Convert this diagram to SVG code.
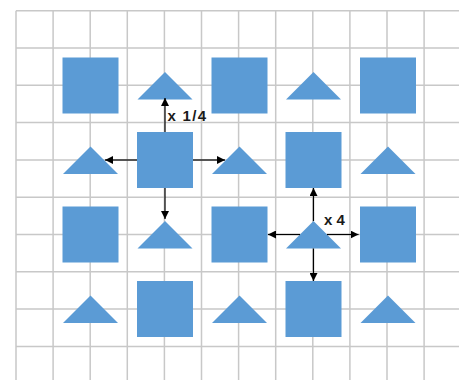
<svg xmlns="http://www.w3.org/2000/svg" width="459" height="380" viewBox="0 0 459 380">
<style>
.g{stroke:#c8c8c8;stroke-width:1.5;fill:none}
.sq,.tr{fill:#5b9bd5}
.c{stroke:#000;stroke-width:1.2;fill:none;marker-end:url(#ah)}
.t{font-family:"Liberation Sans",Arial,sans-serif;font-weight:bold;font-size:15px;fill:#1a1a1a}
</style>
<defs>
<marker id="ah" viewBox="0 0 10 10" refX="10" refY="5" markerWidth="8" markerHeight="8" markerUnits="userSpaceOnUse" orient="auto">
<path d="M0,0 L10,5 L0,10 z" fill="#000"/>
</marker>
<rect id="s" x="-28" y="-28" width="56" height="56"/>
<path id="t" d="M0,-13.6 L27.5,14 L-27.5,14 z"/>
</defs>
<rect width="459" height="380" fill="#fff"/>
<g id="grid" class="g">
<path d="M16,10.7V380M53.1,10.7V380M90.2,10.7V380M127.3,10.7V380M164.4,10.7V380M201.5,10.7V380M238.6,10.7V380M275.7,10.7V380M312.8,10.7V380M349.9,10.7V380M387,10.7V380M424.1,10.7V380"/>
<path d="M16,10.7H459M16,48H459M16,85.3H459M16,122.6H459M16,159.9H459M16,197.2H459M16,234.5H459M16,271.8H459M16,309.1H459M16,346.4H459"/>
</g>
<g id="n1" class="sq"><use href="#s" x="90.5" y="85.5"/></g>
<g id="n2" class="tr"><use href="#t" x="165" y="85.5"/></g>
<g id="n3" class="sq"><use href="#s" x="239.5" y="85.5"/></g>
<g id="n4" class="tr"><use href="#t" x="313.5" y="85.5"/></g>
<g id="n5" class="sq"><use href="#s" x="388" y="85.5"/></g>
<g id="n6" class="tr"><use href="#t" x="90.5" y="160"/></g>
<g id="n7" class="sq"><use href="#s" x="165" y="160"/></g>
<g id="n8" class="tr"><use href="#t" x="239.5" y="160"/></g>
<g id="n9" class="sq"><use href="#s" x="313.5" y="160"/></g>
<g id="n10" class="tr"><use href="#t" x="388" y="160"/></g>
<g id="n11" class="sq"><use href="#s" x="90.5" y="234.5"/></g>
<g id="n12" class="tr"><use href="#t" x="165" y="234.5"/></g>
<g id="n13" class="sq"><use href="#s" x="239.5" y="234.5"/></g>
<g id="n14" class="tr"><use href="#t" x="313.5" y="234.5"/></g>
<g id="n15" class="sq"><use href="#s" x="388" y="234.5"/></g>
<g id="n16" class="tr"><use href="#t" x="90.5" y="309"/></g>
<g id="n17" class="sq"><use href="#s" x="165" y="309"/></g>
<g id="n18" class="tr"><use href="#t" x="239.5" y="309"/></g>
<g id="n19" class="sq"><use href="#s" x="313.5" y="309"/></g>
<g id="n20" class="tr"><use href="#t" x="388" y="309"/></g>
<g id="connectors">
<path class="c" d="M165,132V98"/>
<path class="c" d="M137,160H105"/>
<path class="c" d="M193,160H225"/>
<path class="c" d="M165,188V219"/>
<path class="c" d="M313.5,221V188"/>
<path class="c" d="M300,234.5H268"/>
<path class="c" d="M327,234.5H358.5"/>
<path class="c" d="M313.5,248.5V281"/>
</g>
<text class="t" x="167.5" y="120.5" textLength="38.5">x 1/4</text>
<text class="t" x="324" y="225">x 4</text>
</svg>
